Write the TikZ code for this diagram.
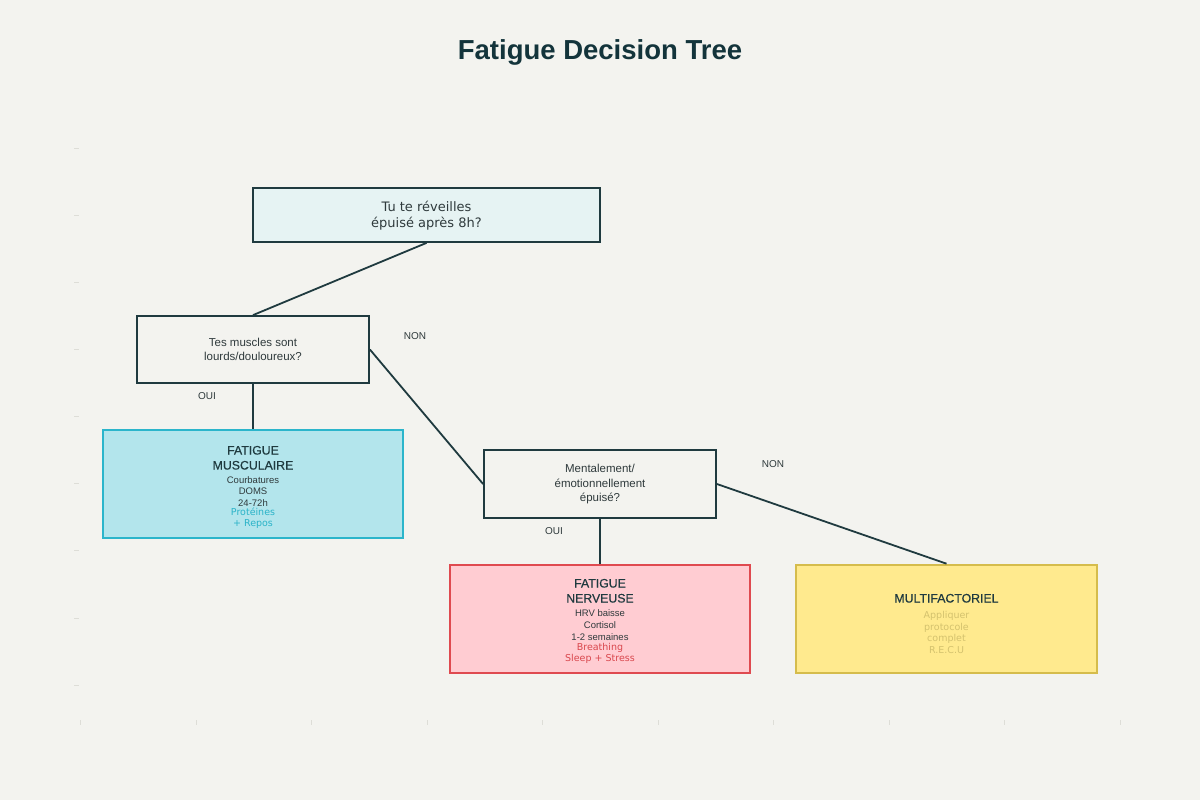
\documentclass[tikz,border=0pt]{standalone}
\usepackage{fontspec}
\setmainfont{Liberation Sans}
\newfontfamily\dvs{DejaVu Sans}
\newfontfamily\medfont[FakeBold=0.45]{Liberation Sans}
\definecolor{bg}{HTML}{F3F3EF}
\definecolor{ink}{HTML}{1F3A3F}
\definecolor{titlec}{HTML}{13343B}
\definecolor{txt}{HTML}{2F3A3C}
\definecolor{rootfill}{HTML}{E6F3F3}
\definecolor{cyanfill}{HTML}{B3E5EC}
\definecolor{cyanline}{HTML}{2BB5CB}
\definecolor{cyantxt}{HTML}{2AB3C8}
\definecolor{redfill}{HTML}{FFCCD2}
\definecolor{redline}{HTML}{DF4A50}
\definecolor{redtxt}{HTML}{D9474D}
\definecolor{yelfill}{HTML}{FFEA8E}
\definecolor{yelline}{HTML}{D5BC4C}
\definecolor{yeltxt}{HTML}{D4C26E}
\definecolor{tick}{HTML}{DDDDD7}
\tikzset{
  box/.style={draw=ink, line width=1.8pt, rectangle, inner sep=0pt},
  conn/.style={draw=ink, line width=1.8pt},
  lbl/.style={anchor=base, inner sep=0pt, text=txt},
  fs/.style={font=\fontsize{#1}{#1}\selectfont},
  dv/.style={font=\dvs\fontsize{#1}{#1}\selectfont},
  hd/.style={anchor=base, inner sep=0pt, text=ink, font=\medfont\fontsize{12.3}{12.3}\selectfont},
  ticks/.style={draw=tick, line width=0.6pt}
}
\begin{document}
\begin{tikzpicture}[x=1pt,y=-1pt]
\fill[bg] (0,0) rectangle (1200,800);
\useasboundingbox (0,0) rectangle (1200,800);
% faint axis ticks
\foreach \yy in {148,215,282,349,416,483,550,618,685} {\draw[ticks] (74,\yy) -- (79,\yy);}
\foreach \xx in {80,196,311,427,542,658,773,889,1004,1120} {\draw[ticks] (\xx,720) -- (\xx,725);}
% title
\node[lbl, text=titlec, font=\bfseries\fontsize{27.5}{27.5}\selectfont] (title) at (600,59.5) {Fatigue Decision Tree};
% boxes
\node[box, fill=rootfill, minimum width=347pt, minimum height=54pt] (root) at (426.5,215) {};
\node[box, fill=bg, minimum width=232pt, minimum height=67pt] (musc) at (253,349.5) {};
\node[box, fill=bg, minimum width=232pt, minimum height=68pt] (ment) at (600,484) {};
\node[box, draw=cyanline, line width=2.6pt, fill=cyanfill, minimum width=300pt, minimum height=108pt] (fm) at (253,484) {};
\node[box, draw=redline, line width=2.6pt, fill=redfill, minimum width=300pt, minimum height=108pt] (fn) at (600,619) {};
\node[box, draw=yelline, line width=2.6pt, fill=yelfill, minimum width=301pt, minimum height=108pt] (mf) at (946.5,619) {};
% connectors
\draw[conn] (root.south) -- (musc.north);
\draw[conn] (musc.south) -- (fm.north);
\draw[conn] (musc.east) -- (ment.west);
\draw[conn] (ment.south) -- (fn.north);
\draw[conn] (ment.east) -- (mf.north);
% question texts
\node[lbl, dv=13] (r1) at (426.5,211) {Tu te réveilles};
\node[lbl, dv=13] (r2) at (426.5,227) {épuisé après 8h?};
\node[lbl, fs=11.5] (m1) at (253,346) {Tes muscles sont};
\node[lbl, fs=11.5] (m2) at (253,360.5) {lourds/douloureux?};
\node[lbl, fs=11.5] (e1) at (600,472) {Mentalement/};
\node[lbl, fs=11.5] (e2) at (600,487) {émotionnellement};
\node[lbl, fs=11.5] (e3) at (600,501.5) {épuisé?};
% branch labels
\node[lbl, fs=10] (non1) at (415,339.5) {NON};
\node[lbl, fs=10] (oui1) at (207,399.5) {OUI};
\node[lbl, fs=10] (non2) at (773,467.5) {NON};
\node[lbl, fs=10] (oui2) at (554,534.5) {OUI};
% fatigue musculaire
\node[hd] (fm1) at (253,454.5) {FATIGUE};
\node[hd] (fm2) at (253,469.5) {MUSCULAIRE};
\node[lbl, fs=9.5] (fm3) at (253,483.5) {Courbatures};
\node[lbl, fs=9.5] (fm4) at (253,494.5) {DOMS};
\node[lbl, fs=9.5] (fm5) at (253,506.5) {24-72h};
\node[lbl, dv=9.5, text=cyantxt] (fm6) at (253,515.5) {Protéines};
\node[lbl, dv=9.5, text=cyantxt] (fm7) at (253,526.5) {+ Repos};
% fatigue nerveuse
\node[hd] (fn1) at (600,587.5) {FATIGUE};
\node[hd] (fn2) at (600,602.5) {NERVEUSE};
\node[lbl, fs=9.5] (fn3) at (600,616.5) {HRV baisse};
\node[lbl, fs=9.5] (fn4) at (600,628.5) {Cortisol};
\node[lbl, fs=9.5] (fn5) at (600,640.5) {1-2 semaines};
\node[lbl, dv=9.5, text=redtxt] (fn6) at (600,650.5) {Breathing};
\node[lbl, dv=9.5, text=redtxt] (fn7) at (600,661.5) {Sleep + Stress};
% multifactoriel
\node[hd] (mf1) at (946.5,602.5) {MULTIFACTORIEL};
\node[lbl, dv=9.5, text=yeltxt] (mf2) at (946.5,618.5) {Appliquer};
\node[lbl, dv=9.5, text=yeltxt] (mf3) at (946.5,630) {protocole};
\node[lbl, dv=9.5, text=yeltxt] (mf4) at (946.5,641.5) {complet};
\node[lbl, dv=9.5, text=yeltxt] (mf5) at (946.5,653) {R.E.C.U};
\end{tikzpicture}
\end{document}
